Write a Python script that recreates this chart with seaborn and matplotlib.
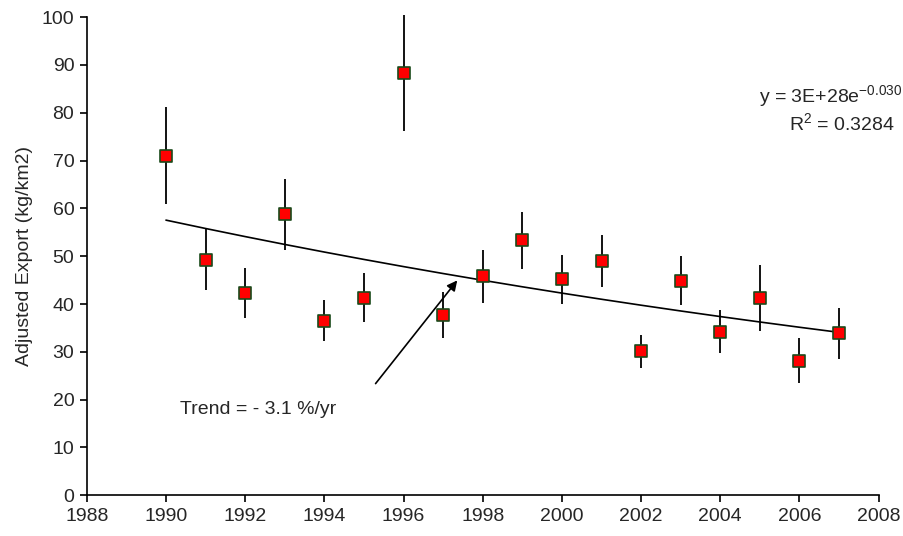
import numpy as np
import pandas as pd
import matplotlib
matplotlib.use('Agg')
from matplotlib import pyplot as plt
import seaborn as sns

years = [1990, 1991, 1992, 1993, 1994, 1995, 1996, 1997, 1998,
         1999, 2000, 2001, 2002, 2003, 2004, 2005, 2006, 2007]
export = [71.0, 49.2, 42.3, 58.8, 36.5, 41.3, 88.3, 37.7, 45.8,
          53.4, 45.2, 49.0, 30.1, 44.9, 34.2, 41.2, 28.1, 33.9]
upper = [81.3, 55.7, 47.6, 66.1, 40.8, 46.4, 100.5, 42.6, 51.3,
         59.3, 50.2, 54.4, 33.5, 50.0, 38.7, 48.1, 32.8, 39.2]
lower = [60.9, 42.9, 37.0, 51.4, 32.3, 36.2, 76.2, 32.9, 40.3,
         47.4, 40.0, 43.5, 26.6, 39.8, 29.7, 34.3, 23.4, 28.5]

df = pd.DataFrame({'year': years, 'export': export, 'upper': upper, 'lower': lower})

# exponential trendline, same as excel: fit log(y) against year
b, ln_a = np.polyfit(df['year'], np.log(df['export']), 1)
df['trend'] = np.exp(ln_a + b * df['year'])

sns.set_theme(style='ticks')
plt.rcParams['font.family'] = ['Liberation Sans', 'DejaVu Sans']

fig, ax = plt.subplots(figsize=(9.04, 5.36), dpi=100)
fig.subplots_adjust(left=0.096, right=0.972, top=0.968, bottom=0.076)

sns.lineplot(data=df, x='year', y='trend', color='black', lw=1.2, ax=ax)
ax.errorbar(df['year'], df['export'],
            yerr=[df['export'] - df['lower'], df['upper'] - df['export']],
            fmt='none', ecolor='black', elinewidth=1.3, capsize=0, clip_on=False, zorder=3)
sns.scatterplot(data=df, x='year', y='export', marker='s', color='red',
                edgecolor='#1a4a1a', linewidth=1.2, s=80, ax=ax, zorder=4)

ax.set_xlim(1988, 2008)
ax.set_ylim(0, 100)
ax.set_xticks(range(1988, 2009, 2))
ax.set_yticks(range(0, 101, 10))
ax.set_xlabel('')
ax.set_ylabel('Adjusted Export (kg/km2)', fontsize=14, labelpad=6)
ax.tick_params(labelsize=14, width=1.2, length=5, color='black', pad=4)
for s in ['left', 'bottom']:
    ax.spines[s].set_linewidth(1.2)
    ax.spines[s].set_color('black')
sns.despine(ax=ax)

ax.annotate('', xy=(1997.4, 45.4), xytext=(1995.25, 22.9),
            arrowprops=dict(arrowstyle='-|>', color='black', lw=1.2, mutation_scale=15))
ax.text(1990.35, 18.0, 'Trend = - 3.1 %/yr', fontsize=14, va='center', ha='left')

ax.text(2008.6, 83.3, r'y = 3E+28e$^{\mathregular{-0.030}}$', fontsize=14,
        ha='right', va='center', clip_on=False)
ax.text(2008.4, 77.7, r'R$^{\mathregular{2}}$ = 0.3284', fontsize=14,
        ha='right', va='center', clip_on=False)

plt.savefig('out.png', dpi=100)
